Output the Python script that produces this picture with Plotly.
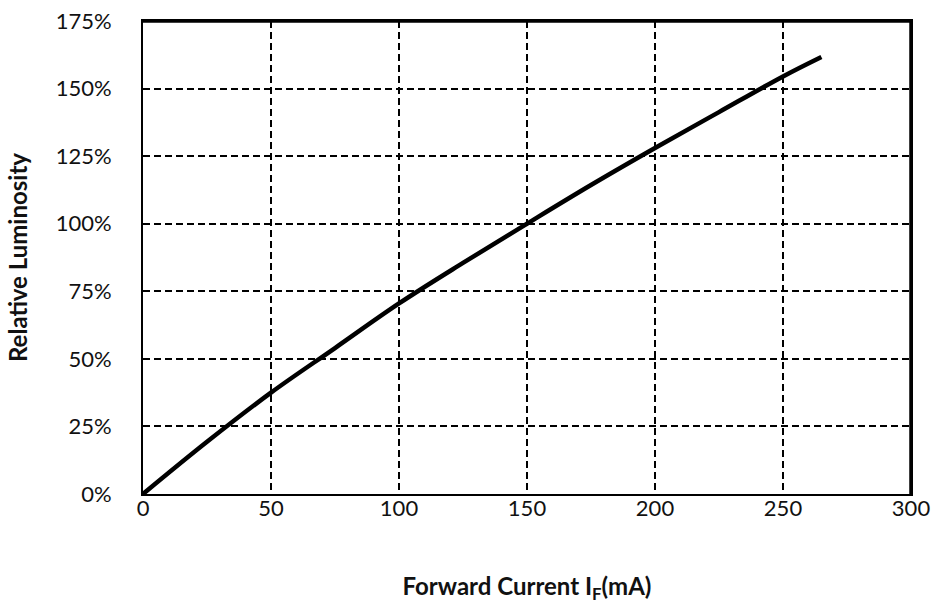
import plotly.graph_objects as go

current_ma = [0, 25, 50, 75, 100, 125, 150, 175, 200, 225, 250, 265]
luminosity_pct = [0, 19.3, 37.5, 54, 70.5, 85.5, 100, 114.3, 128, 141.3, 154.5, 161.7]

x_ticks = [0, 50, 100, 150, 200, 250, 300]
y_ticks = [0, 25, 50, 75, 100, 125, 150, 175]
y_tick_labels = [f"{v}%" for v in y_ticks]

fig = go.Figure()
fig.add_trace(go.Scatter(
    x=current_ma, y=luminosity_pct, mode="lines",
    line=dict(color="black", width=4.5, shape="spline", smoothing=1.0),
    showlegend=False, hoverinfo="skip",
))

font_family = "Lato, 'Open Sans', sans-serif"
fig.update_layout(
    width=934, height=604,
    margin=dict(l=143, r=23, t=21, b=110),
    paper_bgcolor="white", plot_bgcolor="white",
    font=dict(family=font_family, size=22, color="#111"),
    shapes=[
        dict(type="line", xref="paper", yref="paper", x0=0, x1=1, y0=1, y1=1,
             line=dict(color="black", width=3.5)),
        dict(type="line", xref="paper", yref="paper", x0=1, x1=1, y0=0, y1=1,
             line=dict(color="black", width=3.5)),
    ],
)
fig.update_xaxes(
    range=[0, 300], tickvals=x_ticks, ticks="", ticklen=0, ticklabelstandoff=-6,
    automargin=False,
    showgrid=True, gridcolor="black", gridwidth=1.5, griddash="7px,4px",
    showline=True, linecolor="black", linewidth=2, mirror=True,
    zeroline=False,
    title=dict(text="<b>Forward Current I<sub>F</sub>(mA)</b>", font=dict(size=24), standoff=70),
)
fig.update_yaxes(
    range=[0, 175], tickvals=y_ticks, ticktext=y_tick_labels, ticks="", ticklen=0,
    ticklabelstandoff=25, automargin=False,
    showgrid=True, gridcolor="black", gridwidth=1.5, griddash="7px,4px",
    showline=True, linecolor="black", linewidth=2, mirror=True,
    zeroline=False,
    title=dict(text="<b>Relative Luminosity</b>", font=dict(size=24), standoff=21),
)

fig.write_html(
    "out.html",
    config={"displayModeBar": False},
    post_script=(
        "document.body.style.margin='0';document.body.style.overflow='hidden';"
    ),
)
